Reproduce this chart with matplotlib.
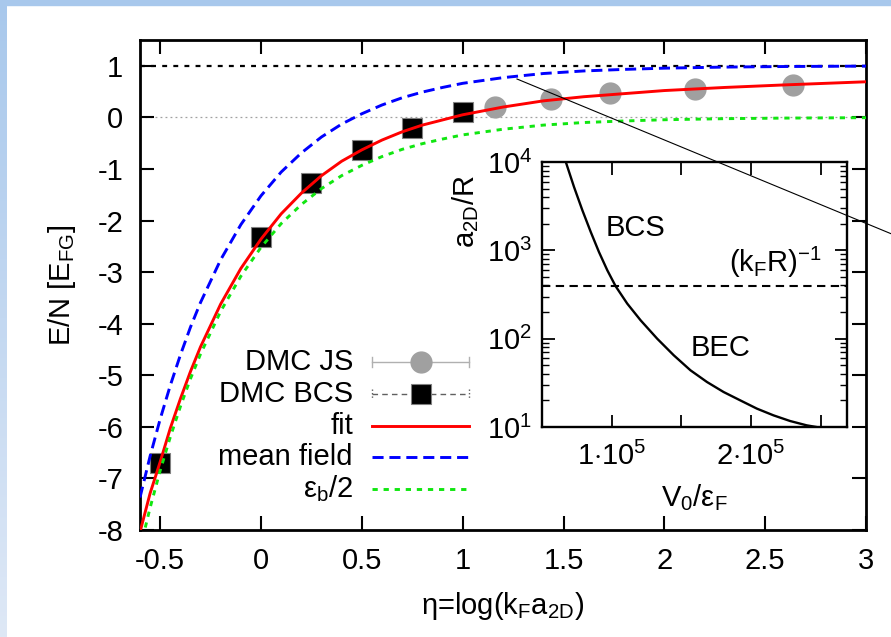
import numpy as np
import matplotlib
matplotlib.use('Agg')
import matplotlib.pyplot as plt
from matplotlib.patches import Rectangle

plt.rcParams['font.family'] = ['Liberation Sans', 'DejaVu Sans']
plt.rcParams['mathtext.fontset'] = 'custom'
plt.rcParams['mathtext.rm'] = 'Liberation Sans'
plt.rcParams['mathtext.it'] = 'Liberation Sans:italic'
plt.rcParams['mathtext.bf'] = 'Liberation Sans:bold'
plt.rcParams['mathtext.default'] = 'rm'
plt.rcParams['axes.unicode_minus'] = False

# ---------------- data ----------------
eta_js = [1.16, 1.44, 1.73, 2.15, 2.64]
E_js = [0.21, 0.36, 0.47, 0.55, 0.63]

eta_bcs = [-0.5, 0.0, 0.25, 0.5, 0.75, 1.0]
E_bcs = [-6.70, -2.32, -1.27, -0.63, -0.20, 0.11]

eta_curve = [-0.6, -0.55, -0.5, -0.45, -0.4, -0.35, -0.3, -0.2, -0.1, 0.0,
             0.1, 0.2, 0.3, 0.4, 0.5, 0.6, 0.7, 0.8, 0.9, 1.0,
             1.2, 1.4, 1.6, 1.8, 2.0, 2.3, 2.6, 3.0]
E_fit = [-8.04, -7.29, -6.68, -6.03, -5.46, -4.93, -4.45, -3.62, -2.93, -2.36,
         -1.87, -1.47, -1.13, -0.85, -0.63, -0.44, -0.28, -0.15, -0.05, 0.05,
         0.20, 0.32, 0.40, 0.46, 0.52, 0.58, 0.63, 0.69]
E_mf = [-7.37, -6.57, -5.85, -5.20, -4.61, -4.07, -3.59, -2.76, -2.08, -1.52,
        -1.06, -0.69, -0.38, -0.13, 0.07, 0.24, 0.38, 0.49, 0.58, 0.66,
        0.77, 0.85, 0.90, 0.93, 0.954, 0.975, 0.986, 0.994]
E_eb = [-8.37, -7.57, -6.85, -6.20, -5.61, -5.07, -4.59, -3.76, -3.08, -2.52,
        -2.06, -1.69, -1.38, -1.13, -0.93, -0.76, -0.62, -0.51, -0.42, -0.34,
        -0.23, -0.15, -0.10, -0.07, -0.046, -0.025, -0.014, -0.006]

E_free = 1.0
E_zero = 0.0

x_ticks = [-0.5, 0, 0.5, 1, 1.5, 2, 2.5, 3]
x_ticklabels = ['-0.5', '0', '0.5', '1', '1.5', '2', '2.5', '3']
y_ticks = [-8, -7, -6, -5, -4, -3, -2, -1, 0, 1]

# inset
V0 = [0.671e5, 0.730e5, 0.790e5, 0.850e5, 0.909e5, 0.969e5, 1.029e5, 1.112e5,
      1.208e5, 1.327e5, 1.446e5, 1.566e5, 1.685e5, 1.804e5, 1.923e5, 2.043e5,
      2.162e5, 2.281e5, 2.40e5, 2.47e5]
log_a2d_R = [4.0, 3.717, 3.453, 3.208, 2.981, 2.774, 2.593, 2.397,
             2.208, 2.0, 1.812, 1.642, 1.509, 1.396, 1.302, 1.208,
             1.132, 1.068, 1.019, 1.0]
a2d_R = [10 ** v for v in log_a2d_R]
kFR_inv = 398.0
ins_xticks = [0.5e5, 1e5, 1.5e5, 2e5, 2.5e5]
ins_xticklabels = ['', r'$1{\cdot}10^5$', '', r'$2{\cdot}10^5$', '']
ins_yticks = [1e1, 1e2, 1e3, 1e4]
ins_yticklabels = [r'$10^1$', r'$10^2$', r'$10^3$', r'$10^4$']

legend_labels = ['DMC JS', 'DMC BCS', 'fit', 'mean field', r'$\varepsilon_b$/2']

# ---------------- figure ----------------
W, H = 891, 637
fig = plt.figure(figsize=(W / 100, H / 100), dpi=100)
fig.patch.set_facecolor('white')

# slide background strips
bg = fig.add_axes([0, 0, 1, 1], zorder=-5)
bg.set_xlim(0, W)
bg.set_ylim(H, 0)
bg.axis('off')
grad = np.linspace(0, 1, 256).reshape(-1, 1)
top_c = np.array([168, 200, 236]) / 255
bot_c = np.array([222, 232, 246]) / 255
img = top_c[None, None, :] * (1 - grad[:, :, None]) + bot_c[None, None, :] * grad[:, :, None]
bg.imshow(img, extent=[0, 7, H, 0], aspect='auto', zorder=0)
bg.add_patch(Rectangle((0, 0), W, 5, color=top_c, zorder=1))

FS = 21
ax = fig.add_axes([140 / W, 1 - 530 / H, (866 - 140) / W, (530 - 40) / H])
ax.set_xlim(-0.6, 3)
ax.set_ylim(-8, 1.5)

ax.axhline(E_zero, color='#a0a0a0', lw=0.9, ls=(0, (1.5, 2.5)), zorder=1)
ax.axhline(E_free, color='black', lw=1.6, ls=(0, (2.2, 2.8)), zorder=1)

ax.plot(eta_js, E_js, 'o', ms=15, color='#a0a0a0', mec='#a0a0a0', zorder=2)
ax.plot(eta_bcs, E_bcs, 's', ms=15, color='black', mec='#808080', mew=0.8, zorder=2)
ax.plot(eta_curve, E_fit, color='#ff0000', lw=2.1, zorder=3)
ax.plot(eta_curve, E_mf, color='#0000ff', lw=2.1, ls=(0, (3.8, 2.0)), zorder=3)
ax.plot(eta_curve, E_eb, color='#11e611', lw=2.1, ls=(0, (1.8, 2.0)), zorder=3)

ax.set_xticks(x_ticks)
ax.set_xticklabels(x_ticklabels)
ax.set_yticks(y_ticks)
ax.tick_params(direction='in', length=10, width=1.5, top=True, right=True,
               labelsize=FS, pad=12)
for s in ax.spines.values():
    s.set_linewidth(2.0)
ax.set_xlabel(r'η=log(k$_F$a$_{2D}$)', fontsize=FS)
ax.xaxis.set_label_coords(0.5, -0.155)
ax.xaxis.label.set_va('center')
ax.set_ylabel(r'E/N [E$_{FG}$]', fontsize=FS)
ax.yaxis.set_label_coords(-0.107, 0.5)
ax.yaxis.label.set_va('center')

# inset
ins = fig.add_axes([542 / W, 1 - 427 / H, (847 - 542) / W, (427 - 162) / H])
ins.set_yscale('log')
ins.set_xlim(0.5e5, 2.69e5)
ins.set_ylim(10, 1e4)
ins.plot(V0, a2d_R, color='black', lw=1.7)
ins.axhline(kFR_inv, color='black', lw=1.5, ls=(0, (4, 2.6)))
ins.set_xticks(ins_xticks)
ins.set_xticklabels(ins_xticklabels)
ins.set_yticks(ins_yticks)
ins.set_yticklabels(ins_yticklabels)
ins.tick_params(which='major', direction='in', length=9, width=1.3, top=True,
                right=True, labelsize=FS, pad=7)
ins.tick_params(which='minor', direction='in', length=5, width=1.0, top=False,
                right=True, left=True)
ins.tick_params(axis='x', which='major', pad=11)
for s in ins.spines.values():
    s.set_linewidth(1.7)
ins.set_xlabel(r'V$_0$/$\varepsilon_F$', fontsize=FS)
ins.xaxis.set_label_coords(0.5, -0.265)
ins.xaxis.label.set_va('center')
ins.set_ylabel(r'a$_{2D}$/R', fontsize=FS)
ins.yaxis.set_label_coords(-0.252, 0.815)
ins.yaxis.label.set_va('center')
ins.text(0.305, 0.751, 'BCS', transform=ins.transAxes, fontsize=FS,
         ha='center', va='center')
ins.text(0.587, 0.298, 'BEC', transform=ins.transAxes, fontsize=FS,
         ha='center', va='center')
ins.text(0.767, 0.623, r'(k$_F$R)$^{-1}$', transform=ins.transAxes, fontsize=FS,
         ha='center', va='center')

# overlay: legend + pointer line
ov = fig.add_axes([0, 0, 1, 1], zorder=10)
ov.set_xlim(0, W)
ov.set_ylim(H, 0)
ov.axis('off')
rows = [362, 394, 426, 457, 489]
tx, x0, x1 = 353, 372, 469
xm = (x0 + x1) / 2
for lab, yy in zip(legend_labels, rows):
    ov.text(tx, yy, lab, fontsize=FS, ha='right', va='center')
# DMC JS
ov.plot([x0, x1], [rows[0]] * 2, color='#b0b0b0', lw=1.0)
for xx in (x0, x1):
    ov.plot([xx, xx], [rows[0] - 5, rows[0] + 5], color='#b0b0b0', lw=1.0)
ov.plot([xm], [rows[0]], 'o', ms=15, color='#a0a0a0')
# DMC BCS
ov.plot([x0, x1], [rows[1]] * 2, color='#606060', lw=1.0, ls=(0, (4, 3)))
for xx in (x0, x1):
    ov.plot([xx, xx], [rows[1] - 5, rows[1] + 5], color='#606060', lw=1.0,
            ls=(0, (1, 1.5)))
ov.plot([xm], [rows[1]], 's', ms=15, color='black', mec='#808080', mew=0.8)
# fit, mean field, eb/2
ov.plot([x0, x1], [rows[2]] * 2, color='#ff0000', lw=2.1)
ov.plot([x0, x1], [rows[3]] * 2, color='#0000ff', lw=2.1, ls=(0, (3.8, 2.0)))
ov.plot([x0, x1], [rows[4]] * 2, color='#11e611', lw=2.1, ls=(0, (1.8, 2.0)))
# thin pointer line
ov.plot([517, 891], [79, 233.7], color='black', lw=0.8)

fig.savefig('out.png', dpi=100)
